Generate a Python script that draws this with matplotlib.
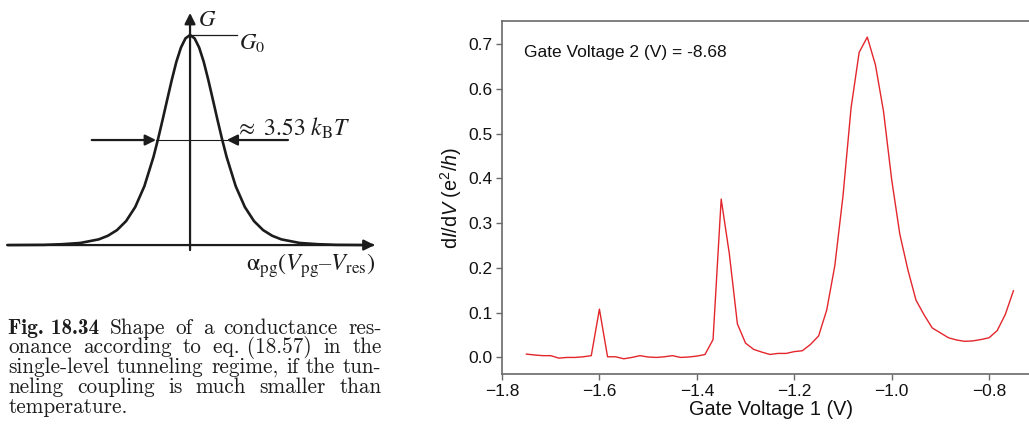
import numpy as np
import matplotlib
matplotlib.use("Agg")
import matplotlib.pyplot as plt
from matplotlib.ticker import FuncFormatter

plt.rcParams['font.family'] = ['Liberation Sans', 'DejaVu Sans']
plt.rcParams['mathtext.fontset'] = 'custom'
plt.rcParams['mathtext.rm'] = 'Liberation Sans'
plt.rcParams['mathtext.it'] = 'Liberation Sans:italic'

# --- sketch (left): G/G0 vs detuning in units of kT, right half
sketch_x = [0, 0.25, 0.5, 0.75, 1.0, 1.25, 1.5, 1.75, 2.0, 2.5, 3.0, 3.5, 4.0, 4.5, 5.0, 6.0, 7.0, 8.0, 10.0]
sketch_g = [1.0, 0.984, 0.940, 0.872, 0.786, 0.692, 0.597, 0.505, 0.420, 0.280, 0.181, 0.114,
            0.071, 0.044, 0.027, 0.010, 0.004, 0.001, 0.0]

# --- measurement (right)
gate1 = [-1.75, -1.7333, -1.7167, -1.70, -1.6833, -1.6667, -1.65, -1.6333, -1.6167, -1.60,
         -1.5833, -1.5667, -1.55, -1.5333, -1.5167, -1.50, -1.4833, -1.4667, -1.45, -1.4333,
         -1.4167, -1.40, -1.3833, -1.3667, -1.35, -1.3333, -1.3167, -1.30, -1.2833, -1.2667,
         -1.25, -1.2333, -1.2167, -1.20, -1.1833, -1.1667, -1.15, -1.1333, -1.1167, -1.10,
         -1.0833, -1.0667, -1.05, -1.0333, -1.0167, -1.00, -0.9833, -0.9667, -0.95, -0.9333,
         -0.9167, -0.90, -0.8833, -0.8667, -0.85, -0.8333, -0.8167, -0.80, -0.7833, -0.7667, -0.75]
didv = [0.0075, 0.0055, 0.004, 0.004, -0.0015, 0.0, 0.0, 0.0015, 0.004, 0.108,
        0.0015, 0.0015, -0.003, 0.0, 0.004, 0.001, 0.0, 0.0015, 0.004, 0.0,
        0.001, 0.003, 0.0065, 0.040, 0.354, 0.232, 0.075, 0.032, 0.018, 0.012,
        0.0067, 0.009, 0.009, 0.013, 0.015, 0.029, 0.048, 0.106, 0.205, 0.36,
        0.558, 0.682, 0.716, 0.654, 0.550, 0.398, 0.276, 0.196, 0.128, 0.095,
        0.066, 0.055, 0.044, 0.039, 0.036, 0.037, 0.040, 0.044, 0.060, 0.096, 0.149]

W, H = 1029, 438
fig = plt.figure(figsize=(W / 100, H / 100), dpi=100)

# ---------------- left sketch ----------------
ink = '#1c1c1c'
ax0 = fig.add_axes([0, (H - 290) / H, 400 / W, 290 / H])
ax0.set_xlim(-10.4, 11.49)
ax0.set_ylim(-0.214, 1.1667)
ax0.axis('off')

sx = np.array(sketch_x)
sg = np.array(sketch_g)
cx = np.concatenate([-sx[::-1], sx[1:]])
cg = np.concatenate([sg[::-1], sg[1:]])
ax0.plot(cx, cg, color=ink, lw=1.9, solid_capstyle='round', solid_joinstyle='round')

arr = dict(arrowstyle='-|>', color=ink, lw=1.6, mutation_scale=16, shrinkA=0, shrinkB=0)
ax0.annotate('', xy=(10.1, 0), xytext=(-9.96, 0), arrowprops=arr)
ax0.annotate('', xy=(0, 1.105), xytext=(0, -0.024), arrowprops=arr)
ax0.plot([0, 2.55], [1, 1], color=ink, lw=0.9)
ax0.plot([-1.86, 2.0], [0.5, 0.5], color=ink, lw=0.8)
ax0.annotate('', xy=(-1.86, 0.5), xytext=(-5.38, 0.5), arrowprops=arr)
ax0.annotate('', xy=(2.0, 0.5), xytext=(5.36, 0.5), arrowprops=arr)

fs0 = 16.5
ax0.text(0.42, 1.075, r'$G$', fontsize=fs0, ha='left', va='center', math_fontfamily='stix', color=ink)
ax0.text(2.68, 0.962, r'$G_0$', fontsize=fs0, ha='left', va='center', math_fontfamily='stix', color=ink)
ax0.text(2.45, 0.557, r'$\approx\ 3.53\ k_{\mathrm{B}}T$', fontsize=17, ha='left', va='center',
         math_fontfamily='stix', color=ink)
ax0.text(10.13, -0.1, r'$\mathrm{\alpha}_{\mathrm{pg}}(V_{\mathrm{pg}}\mathrm{\u2013}V_{\mathrm{res}})$'
         .replace('\\u2013', '\u2013'),
         fontsize=17.5, ha='right', va='center', math_fontfamily='stix', color=ink)

# caption, justified line by line
renderer = fig.canvas.get_renderer()
cap_lines = [
    [('Fig. 18.34', 'cmb10'), ('Shape', 'cmr10'), ('of', 'cmr10'), ('a', 'cmr10'),
     ('conductance', 'cmr10'), ('res-', 'cmr10')],
    [(w, 'cmr10') for w in ['onance', 'according', 'to', 'eq. (18.57)', 'in', 'the']],
    [(w, 'cmr10') for w in ['single-level', 'tunneling', 'regime,', 'if', 'the', 'tun-']],
    [(w, 'cmr10') for w in ['neling', 'coupling', 'is', 'much', 'smaller', 'than']],
    [('temperature.', 'cmr10')],
]
cap_left, cap_right = 8.3, 381.7
cap_fs = 15.3
for k, line in enumerate(cap_lines):
    ybase = 333.5 + 19.8 * k
    texts = []
    for word, fam in line:
        t = fig.text(0, 1 - ybase / H, word, fontsize=cap_fs, family=fam, color=ink,
                     ha='left', va='baseline')
        texts.append(t)
    widths = [t.get_window_extent(renderer).width for t in texts]
    if len(texts) > 1:
        gap = (cap_right - cap_left - sum(widths)) / (len(texts) - 1)
    else:
        gap = 0
    xpos = cap_left
    for t, w in zip(texts, widths):
        t.set_x(xpos / W)
        xpos += w + gap

# ---------------- right data plot ----------------
ax = fig.add_axes([502 / W, (H - 374) / H, (W - 502) / W, 353 / H])
ax.plot(gate1, didv, color='#e3262c', lw=1.0)
ax.set_xlim(-1.8, -0.718)
ax.set_ylim(-0.037, 0.752)
ax.set_xticks([-1.8, -1.6, -1.4, -1.2, -1.0, -0.8])
ax.set_yticks([0.0, 0.1, 0.2, 0.3, 0.4, 0.5, 0.6, 0.7])
fmt = FuncFormatter(lambda v, p: ('%.1f' % v).replace('-', '\u2212'))
ax.xaxis.set_major_formatter(fmt)
ax.yaxis.set_major_formatter(fmt)
for side in ['left', 'bottom', 'top']:
    ax.spines[side].set_color('#6a6a6a')
    ax.spines[side].set_linewidth(1.2)
ax.spines['right'].set_visible(False)
ax.tick_params(direction='out', length=4, width=1, color='#6a6a6a', labelsize=12.5,
               labelcolor='#111111', pad=3)
ax.set_xlabel('Gate Voltage 1 (V)', fontsize=14.3, color='#111111')
ax.set_ylabel(r'd$\mathit{I}$/d$\mathit{V}$ (e$^{2}$/$\mathit{h}$)', fontsize=14.3, color='#111111')
ax.xaxis.set_label_coords(0.51, -0.074)
ax.yaxis.set_label_coords(-0.072, 0.5)
ax.text(0.042, 0.912, 'Gate Voltage 2 (V) = -8.68', transform=ax.transAxes,
        fontsize=12.5, ha='left', va='center', color='#111111')

fig.savefig('out.png', dpi=100)
